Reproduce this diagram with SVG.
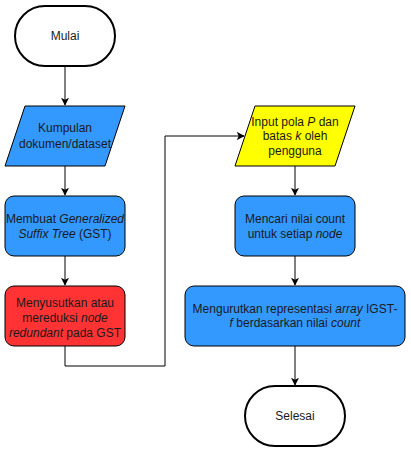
<svg xmlns="http://www.w3.org/2000/svg" width="411" height="452" viewBox="0 0 411 452">
<defs>
<marker id="arr" viewBox="0 0 10 10" refX="9" refY="5" markerWidth="8" markerHeight="8" markerUnits="userSpaceOnUse" orient="auto">
<path d="M0,0 L10,5 L0,10 L2.5,5 Z" fill="#000"/>
</marker>
</defs>
<style>
text{font-family:"Liberation Sans",Arial,sans-serif;font-size:12px;fill:#1a1a1a;text-anchor:middle}
.i{font-style:italic}
.s{stroke:#000;stroke-width:1}
.t{fill:#fff;stroke:#000;stroke-width:2}
.c{fill:none;stroke:#000;stroke-width:1;marker-end:url(#arr)}
</style>
<rect width="411" height="452" fill="#fff"/>
<g id="connectors">
<path class="c" d="M65,66 V105"/>
<path class="c" d="M65,166 V195"/>
<path class="c" d="M65,256 V285"/>
<path class="c" d="M65,346 V366 H165 V136 H244"/>
<path class="c" d="M295,166 V195"/>
<path class="c" d="M295,256 V285"/>
<path class="c" d="M295,346 V385"/>
</g>
<g id="mulai">
<rect class="t" x="15" y="6" width="100" height="60" rx="30"/>
<text x="65" y="40">Mulai</text>
</g>
<g id="kumpulan">
<polygon class="s" fill="#3399ff" points="25,106 125,106 105,166 5,166"/>
<text x="65" y="132">Kumpulan</text>
<text x="65" y="148">dokumen/dataset</text>
</g>
<g id="gst">
<rect class="s" fill="#3399ff" x="5" y="196" width="120" height="60" rx="9"/>
<text x="65" y="223">Membuat <tspan class="i">Generalized</tspan></text>
<text x="65" y="238"><tspan class="i">Suffix Tree</tspan> (GST)</text>
</g>
<g id="reduksi">
<rect class="s" fill="#ff3333" x="5" y="286" width="120" height="60" rx="9"/>
<text x="65" y="307">Menyusutkan atau</text>
<text x="65" y="322">mereduksi <tspan class="i">node</tspan></text>
<text x="65" y="337"><tspan class="i">redundant</tspan> pada GST</text>
</g>
<g id="input">
<polygon class="s" fill="#ffff00" points="255,106 355,106 335,166 235,166"/>
<text x="295" y="126">Input pola <tspan class="i">P</tspan> dan</text>
<text x="295" y="140">batas <tspan class="i">k</tspan> oleh</text>
<text x="295" y="155">pengguna</text>
</g>
<g id="mencari">
<rect class="s" fill="#3399ff" x="235" y="196" width="120" height="60" rx="9"/>
<text x="295" y="223">Mencari nilai count</text>
<text x="295" y="238">untuk setiap <tspan class="i">node</tspan></text>
</g>
<g id="mengurutkan">
<rect class="s" fill="#3399ff" x="185" y="286" width="220" height="60" rx="9"/>
<text x="295" y="313">Mengurutkan representasi <tspan class="i">array</tspan> IGST-</text>
<text x="295" y="327"><tspan class="i">f</tspan> berdasarkan nilai <tspan class="i">count</tspan></text>
</g>
<g id="selesai">
<rect class="t" x="245" y="386" width="100" height="60" rx="30"/>
<text x="295" y="420">Selesai</text>
</g>
</svg>
